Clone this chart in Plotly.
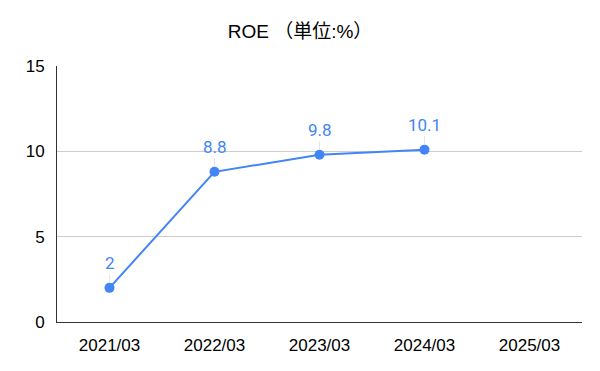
import plotly.graph_objects as go

categories = ["2021/03", "2022/03", "2023/03", "2024/03", "2025/03"]
roe = [2, 8.8, 9.8, 10.1, None]
labels = ["2", "8.8", "9.8", "10.1", ""]
y_ticks = [0, 5, 10, 15]

blue = "#4285F4"

fig = go.Figure()
fig.add_trace(go.Scatter(
    x=categories, y=roe, mode="lines+markers",
    line=dict(color=blue, width=2),
    marker=dict(color=blue, size=10),
    cliponaxis=False, hoverinfo="skip", showlegend=False,
))

for c, v, t in zip(categories, roe, labels):
    if v is None:
        continue
    fig.add_annotation(
        x=c, y=v, text=t, showarrow=True, ax=0, ay=-25,
        arrowhead=0, arrowwidth=1, arrowcolor="#E6E6E6", standoff=5,
        font=dict(family="Roboto, Arial, sans-serif", size=17, color=blue),
    )

fig.update_layout(
    width=600, height=371,
    margin=dict(l=57, r=18, t=66, b=49),
    paper_bgcolor="white", plot_bgcolor="white",
    title=dict(text="ROE （単位:%）", x=0.5, xanchor="center", y=0.916, yanchor="middle",
               font=dict(family="'Liberation Sans', Arial, 'Noto Sans CJK JP', sans-serif", size=19, color="#000000")),
    xaxis=dict(type="category", categoryorder="array", categoryarray=categories,
               range=[-0.5, 4.5], showgrid=False, showline=True, linecolor="#333333", linewidth=1,
               ticks="", tickfont=dict(family="'Liberation Sans', Arial, sans-serif", size=17, color="#000000"),
               ticklabelstandoff=8),
    yaxis=dict(range=[0, 15], tickvals=y_ticks, showgrid=True, gridcolor="#CCCCCC", gridwidth=1,
               showline=True, linecolor="#333333", linewidth=1, zeroline=False, ticks="",
               tickfont=dict(family="'Liberation Sans', Arial, sans-serif", size=17, color="#000000"),
               ticklabelstandoff=8),
)

fig.write_html("out.html", config={"displayModeBar": False},
               post_script="document.body.style.margin='0';")
